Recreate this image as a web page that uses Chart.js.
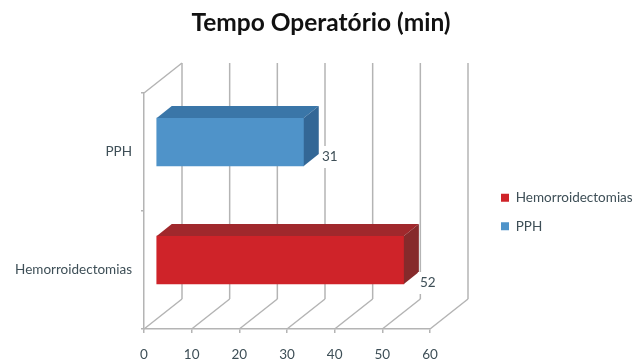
<!DOCTYPE html>
<html lang="pt">
<head>
<meta charset="utf-8">
<title>Tempo Operatório (min)</title>
<script src="https://cdn.jsdelivr.net/npm/chart.js@4/dist/chart.umd.min.js"></script>
<style>
  html, body { margin: 0; padding: 0; background: #fff; }
  canvas { display: block; }
</style>
</head>
<body>
<canvas id="chart" width="642" height="363"></canvas>
<script>
// Categories and values, top to bottom on the category axis
const categories = ['PPH', 'Hemorroidectomias'];
const hemorroidectomias = [null, 52];
const pph = [31, null];
const seriesNames = ['Hemorroidectomias', 'PPH'];
const axisMin = 0;
const axisMax = 60;
const axisStep = 10;

const fontFamily = 'Lato, "Open Sans", sans-serif';
const textColor = '#3e4f57';
const gridColor = '#b4b4b4';

// Oblique projection of the box: wall depth and bar depth in pixels
const wallDepth = { x: 38, y: -30 };
const barInset = { x: 12, y: -10 };
const barDepth = { x: 15, y: -12 };

// Shaded faces per series
const faces = [
  { front: '#cf2329', top: '#a0282c', side: '#862a2b' },
  { front: '#4f93c9', top: '#3a76a8', side: '#336796' }
];
// Value label placement relative to the lower right corner of a bar
const labelShift = [{ x: 24, y: -1 }, { x: 26, y: -9 }];
// Legend block to the right of the box
const legendBox = { left: 486, top: 176, width: 152, height: 100 };

function strokeLine(ctx, x1, y1, x2, y2) {
  ctx.beginPath();
  ctx.moveTo(x1, y1);
  ctx.lineTo(x2, y2);
  ctx.stroke();
}

function fillQuad(ctx, pts, color) {
  ctx.fillStyle = color;
  ctx.beginPath();
  pts.forEach((p, i) => (i ? ctx.lineTo(p[0], p[1]) : ctx.moveTo(p[0], p[1])));
  ctx.closePath();
  ctx.fill();
}

// Centres the title on the canvas and sets the legend beside the plot,
// neither of them taking layout room from the box
const blockPlacement = {
  id: 'blockPlacement',
  afterLayout(chart) {
    const l = chart.legend;
    l.left = legendBox.left;
    l.right = legendBox.left + legendBox.width;
    l.top = legendBox.top;
    l.bottom = legendBox.top + legendBox.height;
    chart.titleBlock.left = 0;
    chart.titleBlock.right = chart.width;
  }
};

// Back wall, floor diagonals and the left wall of the 3D box
const boxWalls = {
  id: 'boxWalls',
  beforeDatasetsDraw(chart) {
    const { ctx, chartArea: a, scales: { x } } = chart;
    ctx.save();
    ctx.strokeStyle = gridColor;
    ctx.lineWidth = 1.5;
    for (let v = axisMin; v <= axisMax; v += axisStep) {
      const px = x.getPixelForValue(v);
      strokeLine(ctx, px, a.bottom, px + wallDepth.x, a.bottom + wallDepth.y);
      strokeLine(ctx, px + wallDepth.x, a.bottom + wallDepth.y, px + wallDepth.x, a.top + wallDepth.y);
    }
    strokeLine(ctx, a.left, a.top, a.left + wallDepth.x, a.top + wallDepth.y);
    ctx.restore();
  }
};

// Shifts the bars into the box and adds their top and side faces
const boxBars = {
  id: 'boxBars',
  beforeDatasetsDraw(chart) {
    chart.ctx.save();
    chart.ctx.translate(barInset.x, barInset.y);
  },
  afterDatasetsDraw(chart) {
    const { ctx } = chart;
    const labels = [];
    chart.data.datasets.forEach((ds, di) => {
      chart.getDatasetMeta(di).data.forEach((bar, i) => {
        if (ds.data[i] === null) return;
        const top = bar.y - bar.height / 2;
        const bottom = bar.y + bar.height / 2;
        const d = barDepth;
        fillQuad(ctx, [[bar.base, top], [bar.x, top], [bar.x + d.x, top + d.y], [bar.base + d.x, top + d.y]], faces[di].top);
        fillQuad(ctx, [[bar.x, top], [bar.x + d.x, top + d.y], [bar.x + d.x, bottom + d.y], [bar.x, bottom]], faces[di].side);
        labels.push({ text: String(ds.data[i]), x: bar.x + labelShift[di].x, y: bottom + labelShift[di].y });
      });
    });
    // Value labels sit on a white patch that interrupts the grid
    ctx.font = '13.5px ' + fontFamily;
    ctx.textAlign = 'center';
    ctx.textBaseline = 'middle';
    labels.forEach(l => {
      ctx.fillStyle = '#fff';
      ctx.fillRect(l.x - 10, l.y - 11, 20, 22);
      ctx.fillStyle = textColor;
      ctx.fillText(l.text, l.x, l.y);
    });
    ctx.restore();
  }
};

new Chart(document.getElementById('chart'), {
  type: 'bar',
  data: {
    labels: categories,
    datasets: [
      { label: seriesNames[0], data: hemorroidectomias, backgroundColor: faces[0].front, barThickness: 48, clip: false },
      { label: seriesNames[1], data: pph, backgroundColor: faces[1].front, barThickness: 48, clip: false }
    ]
  },
  plugins: [blockPlacement, boxWalls, boxBars],
  options: {
    indexAxis: 'y',
    responsive: false,
    animation: false,
    layout: { padding: { top: 0, right: 212, bottom: 0, left: 0 } },
    scales: {
      x: {
        min: axisMin,
        max: axisMax,
        ticks: { stepSize: axisStep, color: textColor, padding: 14, font: { family: fontFamily, size: 13.5 } },
        grid: { drawOnChartArea: false, color: gridColor, tickLength: 4, lineWidth: 1.5 },
        border: { color: gridColor, width: 1.5 },
        afterFit(scale) { scale.height = 34; }
      },
      y: {
        stacked: true,
        ticks: { color: textColor, padding: 9, font: { family: fontFamily, size: 13.5 } },
        grid: { drawOnChartArea: false, color: gridColor, tickLength: 3, lineWidth: 1.5 },
        border: { color: gridColor, width: 1.5 },
        afterFit(scale) { scale.width = 144; }
      }
    },
    plugins: {
      tooltip: { enabled: false },
      title: {
        display: true,
        text: 'Tempo Operatório (min)',
        color: '#111',
        font: { family: fontFamily, size: 24.5, weight: 'bold' },
        padding: { top: 8, bottom: 55.6 }
      },
      legend: {
        position: 'chartArea',
        align: 'start',
        labels: {
          color: textColor,
          boxWidth: 8,
          boxHeight: 8,
          padding: 15,
          font: { family: fontFamily, size: 13.5 }
        }
      }
    }
  }
});
</script>
</body>
</html>
